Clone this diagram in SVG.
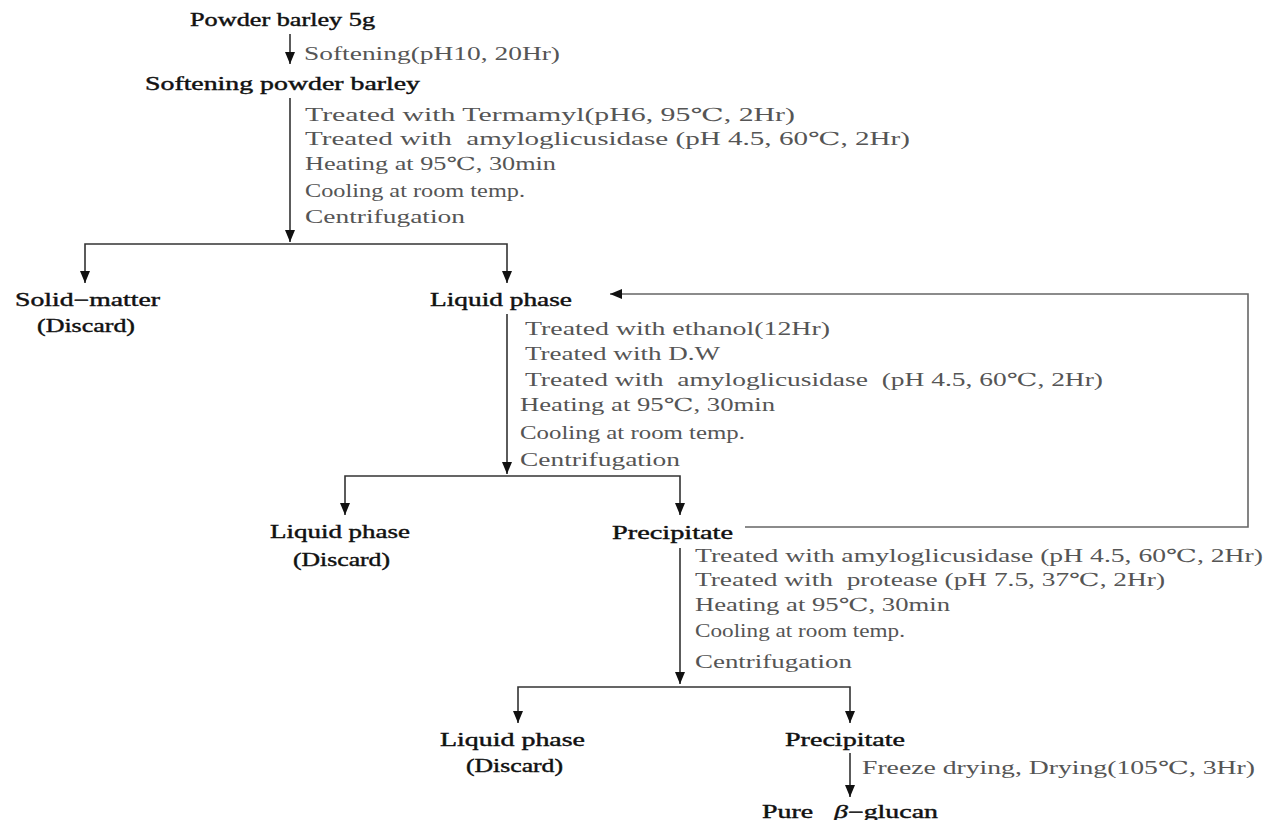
<svg xmlns="http://www.w3.org/2000/svg" width="1266" height="820" viewBox="0 0 1266 820">
<style>
text{white-space:pre;}
.node{font-family:"Liberation Serif","DejaVu Serif",serif;font-size:18px;fill:#111;stroke:#111;stroke-width:0.4;}
.lbl{font-family:"Liberation Serif","DejaVu Serif",serif;font-size:18px;fill:#555;}
.ln{stroke:#333;stroke-width:1.6;fill:none;}
.fb{stroke:#666;stroke-width:1.6;fill:none;}
</style>
<defs>
<marker id="ah" viewBox="0 0 12 10" refX="12" refY="5" markerWidth="12" markerHeight="10" markerUnits="userSpaceOnUse" orient="auto-start-reverse">
<path d="M0,0 L12,5 L0,10 z" fill="#111"/>
</marker>
</defs>
<rect width="1266" height="820" fill="#fff"/>
<g id="connectors">
<line class="ln" x1="290" y1="34" x2="290" y2="64" marker-end="url(#ah)"/>
<line class="ln" x1="290" y1="98" x2="290" y2="242" marker-end="url(#ah)"/>
<polyline class="ln" points="85,283 85,244 507,244 507,283" marker-start="url(#ah)" marker-end="url(#ah)"/>
<line class="ln" x1="507" y1="314" x2="507" y2="474" marker-end="url(#ah)"/>
<polyline class="ln" points="345,515 345,476 680,476 680,515" marker-start="url(#ah)" marker-end="url(#ah)"/>
<polyline class="fb" points="745,527 1248,527 1248,294 610,294" marker-end="url(#ah)"/>
<line class="ln" x1="680" y1="548" x2="680" y2="684" marker-end="url(#ah)"/>
<polyline class="ln" points="518,723 518,687 850,687 850,723" marker-start="url(#ah)" marker-end="url(#ah)"/>
<line class="ln" x1="850" y1="753" x2="850" y2="797" marker-end="url(#ah)"/>
</g>
<g id="n-powder"><text class="node" x="190" y="26" textLength="185" lengthAdjust="spacingAndGlyphs">Powder barley 5g</text></g>
<g id="l-soft"><text class="lbl" x="304" y="60" textLength="256" lengthAdjust="spacingAndGlyphs">Softening(pH10, 20Hr)</text></g>
<g id="n-softpowder"><text class="node" x="145" y="90" textLength="275" lengthAdjust="spacingAndGlyphs">Softening powder barley</text></g>
<g id="l-step1">
<text class="lbl" x="305" y="121" textLength="490" lengthAdjust="spacingAndGlyphs">Treated with Termamyl(pH6, 95℃, 2Hr)</text>
<text class="lbl" x="305" y="145" textLength="605" lengthAdjust="spacingAndGlyphs">Treated with  amyloglicusidase (pH 4.5, 60℃, 2Hr)</text>
<text class="lbl" x="305" y="170" textLength="251" lengthAdjust="spacingAndGlyphs">Heating at 95℃, 30min</text>
<text class="lbl" x="305" y="197" textLength="220" lengthAdjust="spacingAndGlyphs">Cooling at room temp.</text>
<text class="lbl" x="305" y="223" textLength="160" lengthAdjust="spacingAndGlyphs">Centrifugation</text>
</g>
<g id="n-solid">
<text class="node" x="15" y="306" textLength="145" lengthAdjust="spacingAndGlyphs">Solid−matter</text>
<text class="node" x="37" y="332" textLength="98" lengthAdjust="spacingAndGlyphs">(Discard)</text>
</g>
<g id="n-liquid1"><text class="node" x="430" y="306" textLength="142" lengthAdjust="spacingAndGlyphs">Liquid phase</text></g>
<g id="l-step2">
<text class="lbl" x="525" y="335" textLength="305" lengthAdjust="spacingAndGlyphs">Treated with ethanol(12Hr)</text>
<text class="lbl" x="525" y="360" textLength="195" lengthAdjust="spacingAndGlyphs">Treated with D.W</text>
<text class="lbl" x="525" y="386" textLength="578" lengthAdjust="spacingAndGlyphs">Treated with  amyloglicusidase  (pH 4.5, 60℃, 2Hr)</text>
<text class="lbl" x="520" y="411" textLength="255" lengthAdjust="spacingAndGlyphs">Heating at 95℃, 30min</text>
<text class="lbl" x="520" y="439" textLength="225" lengthAdjust="spacingAndGlyphs">Cooling at room temp.</text>
<text class="lbl" x="520" y="466" textLength="160" lengthAdjust="spacingAndGlyphs">Centrifugation</text>
</g>
<g id="n-liquid2">
<text class="node" x="270" y="538" textLength="140" lengthAdjust="spacingAndGlyphs">Liquid phase</text>
<text class="node" x="293" y="566" textLength="97" lengthAdjust="spacingAndGlyphs">(Discard)</text>
</g>
<g id="n-precip1"><text class="node" x="612" y="539" textLength="121" lengthAdjust="spacingAndGlyphs">Precipitate</text></g>
<g id="l-step3">
<text class="lbl" x="695" y="562" textLength="568" lengthAdjust="spacingAndGlyphs">Treated with amyloglicusidase (pH 4.5, 60℃, 2Hr)</text>
<text class="lbl" x="695" y="586" textLength="470" lengthAdjust="spacingAndGlyphs">Treated with  protease (pH 7.5, 37℃, 2Hr)</text>
<text class="lbl" x="695" y="611" textLength="255" lengthAdjust="spacingAndGlyphs">Heating at 95℃, 30min</text>
<text class="lbl" x="695" y="637" textLength="210" lengthAdjust="spacingAndGlyphs">Cooling at room temp.</text>
<text class="lbl" x="695" y="668" textLength="157" lengthAdjust="spacingAndGlyphs">Centrifugation</text>
</g>
<g id="n-liquid3">
<text class="node" x="440" y="746" textLength="145" lengthAdjust="spacingAndGlyphs">Liquid phase</text>
<text class="node" x="466" y="772" textLength="97" lengthAdjust="spacingAndGlyphs">(Discard)</text>
</g>
<g id="n-precip2"><text class="node" x="785" y="746" textLength="120" lengthAdjust="spacingAndGlyphs">Precipitate</text></g>
<g id="l-step4"><text class="lbl" x="862" y="774" textLength="393" lengthAdjust="spacingAndGlyphs">Freeze drying, Drying(105℃, 3Hr)</text></g>
<g id="n-pure"><text class="node" x="762" y="818" textLength="176" lengthAdjust="spacingAndGlyphs">Pure   <tspan font-style="italic">β</tspan>−glucan</text></g>
</svg>
